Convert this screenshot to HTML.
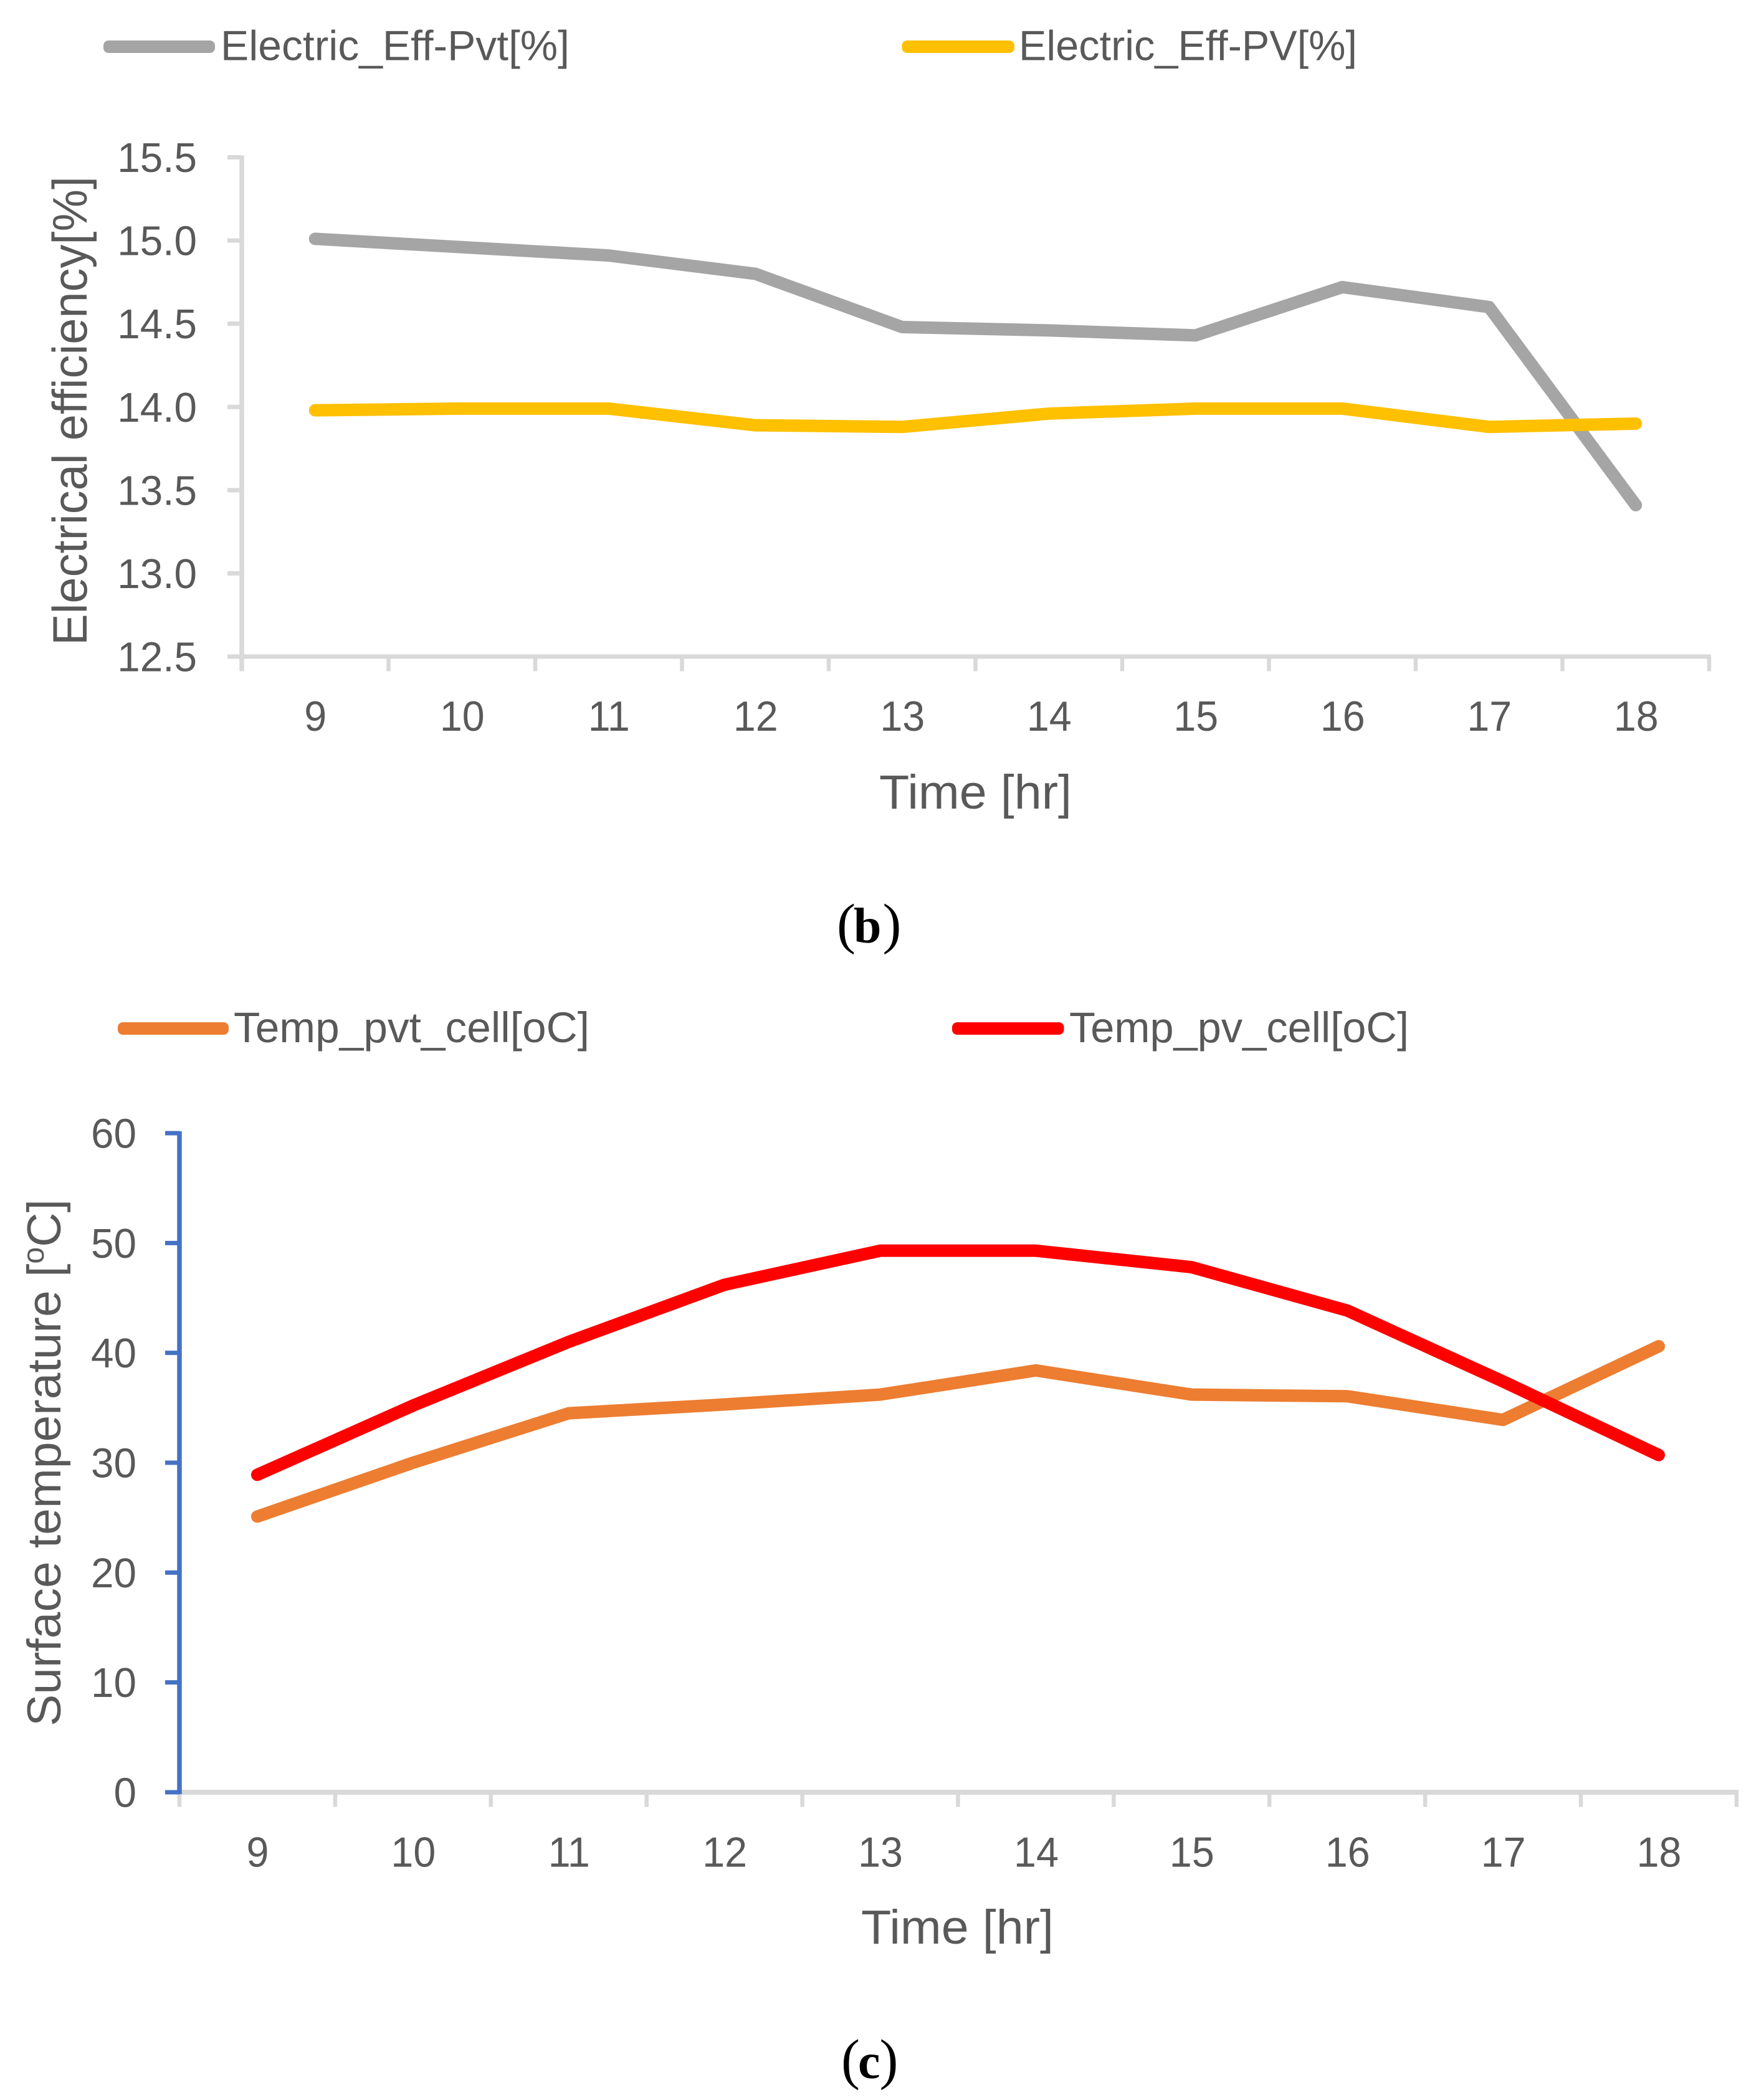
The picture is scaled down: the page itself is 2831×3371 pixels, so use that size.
<!DOCTYPE html>
<html>
<head>
<meta charset="utf-8">
<title>Electrical efficiency and surface temperature charts</title>
<style>
html,body{margin:0;padding:0;background:#fff;}
svg{display:block;}
text{font-family:"Liberation Sans",sans-serif;fill:#595959;}
.cap{font-family:"Liberation Serif",serif;fill:#000;font-size:90px;}
.cap .l{font-size:80px;font-weight:bold;}
</style>
</head>
<body>
<svg id="root" xmlns="http://www.w3.org/2000/svg" width="2831" height="3371" viewBox="0 0 2831 3371">
  <rect x="0" y="0" width="2831" height="3371" fill="#fff"/>

  <g>
    <rect x="166" y="65" width="179" height="20" rx="8" fill="#A5A5A5"/>
    <text x="354" y="96.5" font-size="68" textLength="560" lengthAdjust="spacingAndGlyphs">Electric_Eff-Pvt[%]</text>
    <rect x="1447.5" y="65" width="180.5" height="20" rx="8" fill="#FFC000"/>
    <text x="1635" y="96.5" font-size="68" textLength="543" lengthAdjust="spacingAndGlyphs">Electric_Eff-PV[%]</text>
  </g>
  <text transform="translate(139,1036) rotate(-90)" x="0" y="0" font-size="78" textLength="753" lengthAdjust="spacingAndGlyphs">Electrical efficiency[%]</text>
  <text x="1411" y="1298" font-size="77" textLength="309" lengthAdjust="spacingAndGlyphs">Time [hr]</text>
  <g id="chart-b"></g>
  <text class="cap" x="1343" y="1513">(<tspan class="l" dx="-3">b</tspan><tspan dx="2">)</tspan></text>

  <g>
    <rect x="189" y="1641" width="178" height="20" rx="8" fill="#ED7D31"/>
    <text x="375" y="1673" font-size="69" textLength="571" lengthAdjust="spacingAndGlyphs">Temp_pvt_cell[oC]</text>
    <rect x="1528" y="1641" width="179.5" height="20" rx="8" fill="#FF0000"/>
    <text x="1716" y="1673" font-size="69" textLength="545" lengthAdjust="spacingAndGlyphs">Temp_pv_cell[oC]</text>
  </g>
  <text transform="translate(97,2771) rotate(-90)" x="0" y="0" font-size="76" textLength="846" lengthAdjust="spacingAndGlyphs">Surface temperature [<tspan font-size="48" dy="-27">o</tspan><tspan dy="27">C]</tspan></text>
  <text x="1382" y="3120" font-size="77" textLength="309" lengthAdjust="spacingAndGlyphs">Time [hr]</text>
  <g id="chart-c"></g>
  <text class="cap" x="1350" y="3336">(<tspan class="l" dx="-3">c</tspan><tspan dx="-1">)</tspan></text>
</svg>
<script>
const hours = ["9","10","11","12","13","14","15","16","17","18"];
const effTickLabels = ["12.5","13.0","13.5","14.0","14.5","15.0","15.5"];
const tempTickLabels = ["0","10","20","30","40","50","60"];
const pvtEfficiency = [15.01,14.96,14.91,14.80,14.48,14.46,14.43,14.72,14.60,13.41];
const pvEfficiency = [13.98,13.99,13.99,13.89,13.88,13.96,13.99,13.99,13.88,13.90];
const pvtTemperature = [25.1,30.0,34.5,35.3,36.2,38.4,36.2,36.05,33.9,40.6];
const pvTemperature = [28.9,35.2,41.0,46.2,49.3,49.3,47.8,43.85,37.4,30.7];

const NS = "http://www.w3.org/2000/svg";

function make(parent, tag, attrs) {
  const el = document.createElementNS(NS, tag);
  for (const k in attrs) el.setAttribute(k, attrs[k]);
  parent.appendChild(el);
  return el;
}

function drawChart(host, cfg, labels, series) {
  const lo = parseFloat(labels[0]);
  const hi = parseFloat(labels[labels.length - 1]);
  const yScale = v => cfg.yBottom - (v - lo) / (hi - lo) * (cfg.yBottom - cfg.yTop);
  const xEdge = i => cfg.xLeft + i * (cfg.xRight - cfg.xLeft) / hours.length;
  const xScale = i => xEdge(i + 0.5);

  // category axis
  const xAxis = make(host, "line", {x1: cfg.xLeft - 3, y1: cfg.yBottom, x2: cfg.xRight + 3, y2: cfg.yBottom, stroke: "#D9D9D9", "stroke-width": cfg.axisW});
  
  
  for (let i = 0; i <= hours.length; i++) {
    const t = make(host, "line", {x1: xEdge(i), y1: cfg.yBottom, x2: xEdge(i), y2: cfg.tickEnd, stroke: "#D9D9D9", "stroke-width": 6.5});
    
    
  }
  hours.forEach((h, i) => {
    const l = make(host, "text", {transform: "translate(" + (xScale(i) + 0.5) + "," + cfg.xLabelY + ") scale(0.95,1)", "font-size": 68, "text-anchor": "middle"});
    l.textContent = h;
    
    
  });

  // value axis
  const yAxis = make(host, "line", {x1: cfg.xLeft, y1: cfg.yTop - 3, x2: cfg.xLeft, y2: cfg.yBottom + (cfg.blue ? 3 : 23), stroke: cfg.yColor, "stroke-width": 7.5});
  
  
  labels.forEach(s => {
    const y = yScale(parseFloat(s));
    const t = make(host, "line", {x1: cfg.xLeft - 23, y1: y, x2: cfg.xLeft, y2: y, stroke: cfg.yColor, "stroke-width": 7});
    
    
    const l = make(host, "text", {transform: "translate(" + cfg.yLabelX + "," + (y + 23.5) + ") scale(0.98,1)", "font-size": 67, "text-anchor": "end"});
    l.textContent = s;
    
    
  });

  // series
  series.forEach(s => {
    const pts = s.values.map((v, i) => xScale(i) + "," + yScale(v)).join(" ");
    const line = make(host, "polyline", {points: pts, fill: "none", stroke: s.color, "stroke-width": 20, "stroke-linejoin": "round", "stroke-linecap": "round"});
    
    
  });
}

drawChart(document.getElementById("chart-b"),
  {xLeft: 388, xRight: 2743, yTop: 252.5, yBottom: 1054, tickEnd: 1077.5, axisW: 7, xLabelY: 1173, yLabelX: 316, yColor: "#D9D9D9", blue: false},
  effTickLabels,
  [{values: pvtEfficiency, color: "#A5A5A5", name: "line-pvt-efficiency"},
   {values: pvEfficiency, color: "#FFC000", name: "line-pv-efficiency"}]);

drawChart(document.getElementById("chart-c"),
  {xLeft: 288, xRight: 2787, yTop: 1819, yBottom: 2877, tickEnd: 2900.5, axisW: 8, xLabelY: 2996.6, yLabelX: 219, yColor: "#4472C4", blue: true},
  tempTickLabels,
  [{values: pvtTemperature, color: "#ED7D31", name: "line-pvt-temperature"},
   {values: pvTemperature, color: "#FF0000", name: "line-pv-temperature"}]);
</script>
</body>
</html>
